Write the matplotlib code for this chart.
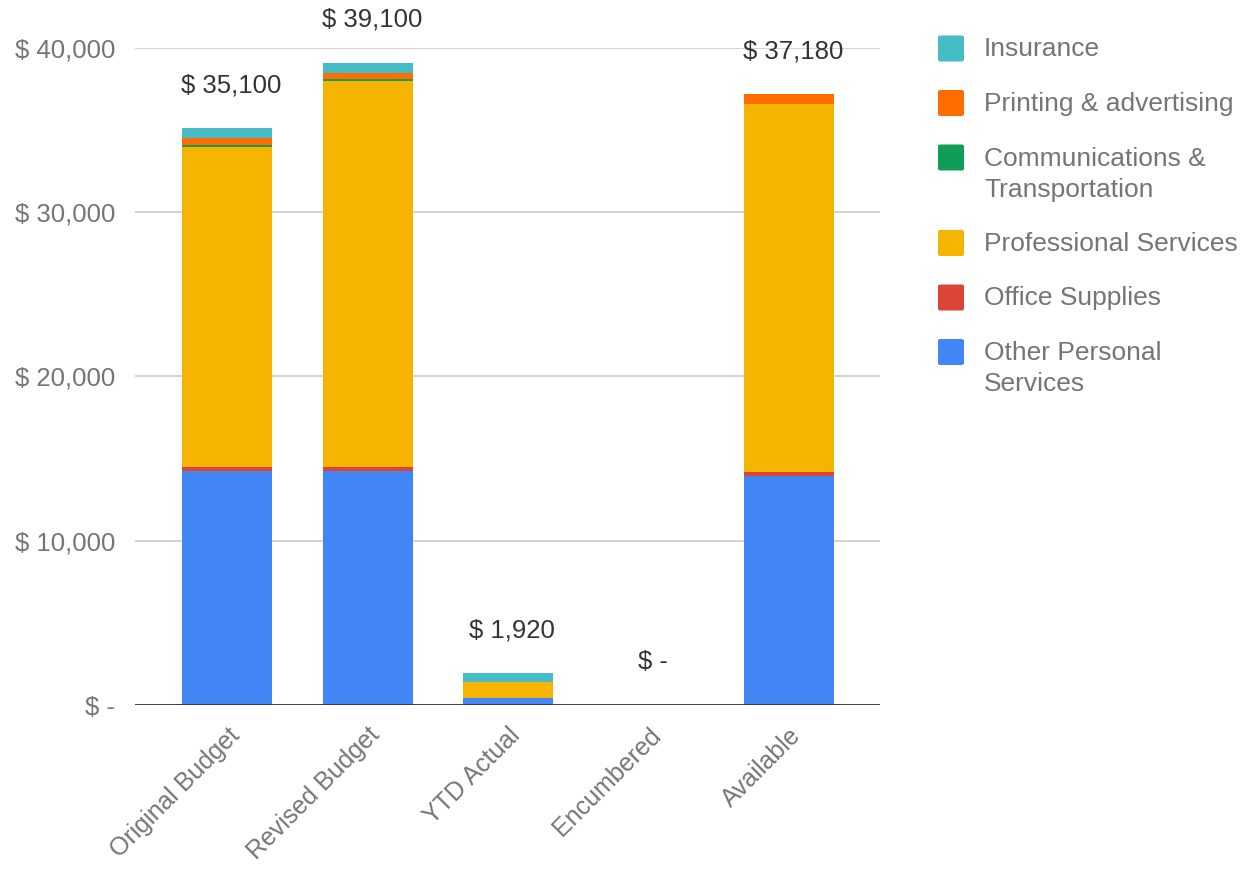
import matplotlib
matplotlib.use("Agg")
import matplotlib.pyplot as plt
from matplotlib.patches import FancyBboxPatch
import numpy as np

categories = ["Original Budget", "Revised Budget", "YTD Actual", "Encumbered", "Available"]
other_personal = [14250, 14250, 400, 0, 13950]
office_supplies = [250, 250, 0, 0, 250]
professional = [19500, 23500, 1020, 0, 22400]
communications = [100, 100, 0, 0, 0]
printing = [400, 400, 0, 0, 580]
insurance = [600, 600, 500, 0, 0]
totals = ["$ 35,100", "$ 39,100", "$ 1,920", "$ -", "$ 37,180"]

series = [
    ("Other Personal\nServices", other_personal, "#4285F4"),
    ("Office Supplies", office_supplies, "#DB4437"),
    ("Professional Services", professional, "#F4B400"),
    ("Communications &\nTransportation", communications, "#0F9D58"),
    ("Printing & advertising", printing, "#FF6D01"),
    ("Insurance", insurance, "#46BDC6"),
]

yticks = [0, 10000, 20000, 30000, 40000]
yticklabels = ["$ -", "$ 10,000", "$ 20,000", "$ 30,000", "$ 40,000"]

plt.rcParams['font.family'] = ['Liberation Sans', 'DejaVu Sans']

W, H = 1247, 869
fig = plt.figure(figsize=(W / 100, H / 100), dpi=100)
ax = fig.add_axes([0.108, 0.1887, 0.598, 0.7561])

x = np.arange(len(categories))
bottom = np.zeros(len(categories))
for name, vals, col in series:
    v = np.array(vals, dtype=float)
    ax.bar(x, v, 0.64, bottom=bottom, color=col, label=name, zorder=3, linewidth=0)
    bottom += v

for xi, tot, lab in zip(x, bottom, totals):
    ax.annotate(lab, (xi, tot), xytext=(3, 31), textcoords="offset points",
                ha="center", va="center", fontsize=18.5, color="#333333",
                annotation_clip=False)

ax.set_xlim(-0.66, 4.65)
ax.set_ylim(0, 40000)
ax.set_yticks(yticks)
ax.set_yticklabels(yticklabels, fontsize=18.5, color="#757575")
ax.yaxis.grid(True, color="#cccccc", linewidth=1.2, zorder=0)
ax.set_axisbelow(True)
for s in ["top", "right", "left", "bottom"]:
    ax.spines[s].set_visible(False)
ax.axhline(0, color="#333333", linewidth=2, zorder=4)
ax.tick_params(axis="both", length=0)
ax.tick_params(axis="y", pad=14)
ax.set_xticks(x)
ax.set_xticklabels(categories, rotation=45, ha="right", rotation_mode="anchor",
                   fontsize=18, color="#757575")
ax.tick_params(axis="x", pad=13)

# legend (manual, top-down order)
ycur = 48.5
for name, vals, col in series[::-1]:
    sq = 26
    fig.patches.append(FancyBboxPatch(((951 - sq / 2) / W, 1 - (ycur + sq / 2) / H),
                                      sq / W, sq / H,
                                      boxstyle="round,pad=0,rounding_size=0.002",
                                      transform=fig.transFigure, facecolor=col,
                                      edgecolor="none", figure=fig))
    lines = name.split("\n")
    for i, ln in enumerate(lines):
        yy = ycur + i * 31
        fig.text(984 / W, 1 - (yy + 8) / H, ln, fontsize=19, color="#757575",
                 ha="left", va="baseline")
    ycur += 54.5 + 31 * (len(lines) - 1)

fig.savefig("out.png", dpi=100)
